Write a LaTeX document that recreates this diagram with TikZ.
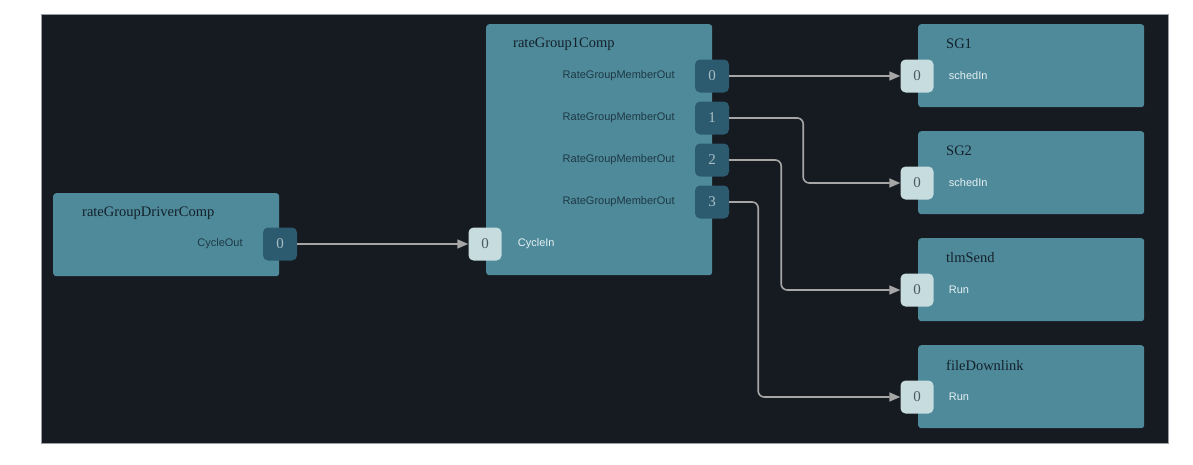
\documentclass[tikz,border=0pt]{standalone}
\usepackage{fontspec}
\setmainfont{Liberation Serif}
\setsansfont{Liberation Sans}
\usepackage{tikz}
\usetikzlibrary{arrows.meta,positioning}
\definecolor{FpBack}{HTML}{161A21}
\definecolor{FpEdge}{HTML}{9A9EA3}
\definecolor{FpComp}{HTML}{4F8A9B}
\definecolor{FpOut}{HTML}{2C5B6F}
\definecolor{FpOutTxt}{HTML}{A9BFC6}
\definecolor{FpIn}{HTML}{C6DCDE}
\definecolor{FpInTxt}{HTML}{4B5B5F}
\definecolor{FpWire}{HTML}{A6A6A6}
\definecolor{FpTitle}{HTML}{13212A}
\definecolor{FpLblOut}{HTML}{1E3944}
\definecolor{FpLblIn}{HTML}{E4F0F2}

\begin{document}
\begin{tikzpicture}[x=1pt,y=-1pt,
  comp/.style={fill=FpComp,rounded corners=3pt,minimum width=226pt,minimum height=83pt,anchor=north west,inner sep=0pt},
  title/.style={anchor=west,text=FpTitle,inner sep=0pt,font=\fontsize{14.5}{15}\selectfont},
  outport/.style={fill=FpOut,rounded corners=5pt,minimum width=34pt,minimum height=33pt,inner sep=0pt,text=FpOutTxt,font=\fontsize{15}{15}\selectfont},
  inport/.style={fill=FpIn,rounded corners=5pt,minimum width=33pt,minimum height=33pt,inner sep=0pt,text=FpInTxt,font=\fontsize{15}{15}\selectfont},
  outlbl/.style={anchor=east,inner sep=0pt,text=FpLblOut,font=\sffamily\fontsize{11}{11}\selectfont},
  inlbl/.style={anchor=west,inner sep=0pt,text=FpLblIn,font=\sffamily\fontsize{11}{11}\selectfont},
  wire/.style={draw=FpWire,line width=1.6pt,rounded corners=6pt,-{Triangle[length=11pt,width=9pt]}}]
\useasboundingbox (0,0) rectangle (1193,464);
\fill[white] (0,0) rectangle (1193,464);
\filldraw[fill=FpBack,draw=FpEdge,line width=.6pt] (41,14) rectangle (1168,443);

% components
\node[comp] (driver) at (53,193) {};
\node[comp,minimum height=251pt] (rg1) at (486,24) {};
\node[comp] (sg1) at (918,24) {};
\node[comp] (sg2) at (918,131) {};
\node[comp] (tlm) at (918,238) {};
\node[comp] (fdl) at (918,345) {};

\node[title] (driverT) at (82,213) {rateGroupDriverComp};
\node[title] (rg1T) at (513,44) {rateGroup1Comp};
\node[title] (sg1T) at (946,44) {SG1};
\node[title] (sg2T) at (946,151) {SG2};
\node[title] (tlmT) at (946,258) {tlmSend};
\node[title] (fdlT) at (946,365) {fileDownlink};

% ports
\node[outport] (driverP) at (280,244) {0};
\node[outlbl,left=20pt of driverP] (driverL) {CycleOut};
\foreach \i/\y in {0/76,1/118,2/160,3/202}{
  \node[outport] (rg1P\i) at (712,\y) {\i};
  \node[outlbl,left=20pt of rg1P\i] (rg1L\i) {RateGroupMemberOut};
}
\node[inport] (rg1In) at (485,244) {0};
\node[inlbl,right=16pt of rg1In] (rg1InL) {CycleIn};
\node[inport] (sg1In) at (917,76) {0};
\node[inlbl,right=15pt of sg1In] {schedIn};
\node[inport] (sg2In) at (917,183) {0};
\node[inlbl,right=15pt of sg2In] {schedIn};
\node[inport] (tlmIn) at (917,290) {0};
\node[inlbl,right=15pt of tlmIn] {Run};
\node[inport] (fdlIn) at (917,397) {0};
\node[inlbl,right=15pt of fdlIn] {Run};

% connections
\draw[wire] (driverP.east) -- (rg1In.west);
\draw[wire] (rg1P0.east) -- (sg1In.west);
\draw[wire] (rg1P1.east) -- ++(74,0) |- (sg2In.west);
\draw[wire] (rg1P2.east) -- ++(52,0) |- (tlmIn.west);
\draw[wire] (rg1P3.east) -- ++(29,0) |- (fdlIn.west);
\end{tikzpicture}
\end{document}
